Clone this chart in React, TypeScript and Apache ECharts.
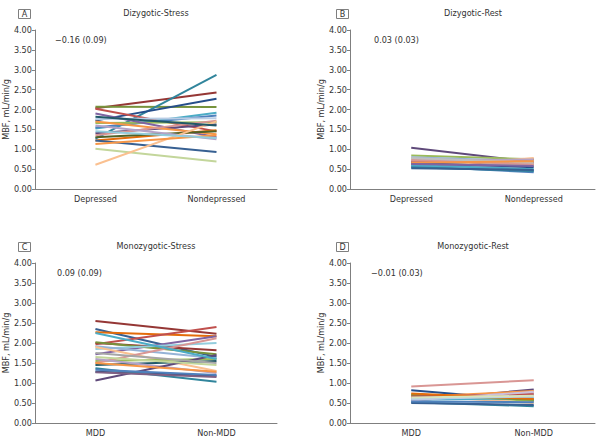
import React, { useEffect, useRef } from "react";
import * as echarts from "echarts";

const yTicks = [0, 0.5, 1, 1.5, 2, 2.5, 3, 3.5, 4];
const dzCategories = ["Depressed", "Nondepressed"];
const mzCategories = ["MDD", "Non-MDD"];
const panelLetters = ["A", "B", "C", "D"];
const panelTitles = ["Dizygotic-Stress", "Dizygotic-Rest", "Monozygotic-Stress", "Monozygotic-Rest"];
const panelNotes = ["\u22120.16 (0.09)", "0.03 (0.03)", "0.09 (0.09)", "\u22120.01 (0.03)"];
const yAxisName = "MBF, mL/min/g";

const dzStressDep = [2.03, 2.07, 1.27, 1.72, 2.02, 1.52, 1.55, 1.76, 1.66, 1.9, 1.4, 1.7, 1.22, 1.3, 1.35, 1.6, 1.22, 1.01, 0.61, 1.13, 1.45, 1.82];
const dzStressNon = [2.43, 2.06, 2.87, 2.27, 1.45, 1.92, 1.85, 1.78, 1.68, 1.3, 1.62, 1.38, 1.48, 1.45, 1.72, 1.25, 0.93, 0.69, 1.7, 1.35, 1.28, 1.6];

const dzRestDep = [1.04, 0.84, 0.8, 0.68, 0.7, 0.62, 0.55, 0.58, 0.55, 0.6, 0.76, 0.72, 0.65, 0.73, 0.78, 0.66, 0.52, 0.63];
const dzRestNon = [0.68, 0.75, 0.7, 0.67, 0.62, 0.75, 0.78, 0.42, 0.45, 0.5, 0.6, 0.74, 0.55, 0.62, 0.66, 0.7, 0.48, 0.58];

const mzStressMdd = [2.55, 2.35, 2.27, 1.97, 1.72, 2.0, 2.02, 1.85, 1.45, 1.92, 1.9, 1.55, 1.5, 1.6, 1.06, 1.28, 1.37, 1.33, 1.27, 1.5, 1.65, 1.75, 2.25];
const mzStressNon = [2.23, 1.65, 2.17, 2.4, 2.17, 1.82, 1.72, 2.0, 1.55, 1.62, 1.3, 1.6, 2.12, 1.25, 1.7, 1.18, 1.03, 1.2, 1.15, 1.28, 1.45, 1.5, 1.6];

const mzRestMdd = [0.91, 0.82, 0.55, 0.65, 0.72, 0.52, 0.6, 0.62, 0.68, 0.58, 0.7, 0.5, 0.66, 0.56, 0.74, 0.6, 0.54, 0.64];
const mzRestNon = [1.07, 0.56, 0.84, 0.8, 0.55, 0.42, 0.7, 0.75, 0.5, 0.62, 0.58, 0.45, 0.72, 0.78, 0.6, 0.66, 0.52, 0.68];

const paletteA = ["#953735", "#77933C", "#31859C", "#254E8A", "#C0504D", "#4BACC6", "#4F81BD", "#B9CDE5", "#9BBB59", "#8064A2", "#5F497A", "#F79646", "#E46C0A", "#4F6228", "#D99694", "#B3A2C7", "#376092", "#C3D69B", "#FAC090", "#F79646", "#93CDDD", "#215968"];
const paletteB = ["#5F497A", "#9BBB59", "#95B3D7", "#953735", "#C0504D", "#E46C0A", "#FAC090", "#4F81BD", "#31859C", "#4BACC6", "#C3D69B", "#B3A2C7", "#254E8A", "#D99694", "#BFBFBF", "#F79646", "#376092", "#8064A2"];
const paletteC = ["#953735", "#376092", "#E46C0A", "#C0504D", "#8064A2", "#953735", "#77933C", "#93CDDD", "#215968", "#95B3D7", "#FAC090", "#9BBB59", "#D99694", "#B3A2C7", "#5F497A", "#1F497D", "#31859C", "#4F81BD", "#7F6084", "#F79646", "#C3D69B", "#A6A6A6", "#4BACC6"];
const paletteD = ["#D99694", "#254E8A", "#5F497A", "#F79646", "#9BBB59", "#31859C", "#95B3D7", "#B3A2C7", "#FAC090", "#4BACC6", "#77933C", "#376092", "#C0504D", "#CCC1DA", "#E46C0A", "#B9CDE5", "#4F81BD", "#D7E4BD"];

const FONT = "'DejaVu Sans Condensed', 'Liberation Sans', sans-serif";
const TXT = "#333";

export default function App() {
  const ref = useRef<HTMLDivElement>(null);
  useEffect(() => {
    document.body.style.margin = "0";
    const chart = echarts.init(ref.current!, null, { renderer: "svg" });
    const grids = [
      { left: 33, top: 30, width: 244, height: 159 },
      { left: 350, top: 30, width: 245, height: 159 },
      { left: 33, top: 263, width: 244, height: 160 },
      { left: 350, top: 263, width: 245, height: 160 },
    ];
    const panels = [
      { cats: dzCategories, a: dzStressDep, b: dzStressNon, pal: paletteA },
      { cats: dzCategories, a: dzRestDep, b: dzRestNon, pal: paletteB },
      { cats: mzCategories, a: mzStressMdd, b: mzStressNon, pal: paletteC },
      { cats: mzCategories, a: mzRestMdd, b: mzRestNon, pal: paletteD },
    ];
    const axisLine = { lineStyle: { color: "#7f7f7f", width: 1 } };
    const xAxis = panels.map((p, i) => ({
      type: "category",
      gridIndex: i,
      data: p.cats,
      boundaryGap: true,
      axisLine,
      axisTick: { alignWithLabel: true, length: 3, lineStyle: { color: "#7f7f7f" } },
      axisLabel: { color: TXT, fontFamily: FONT, fontSize: 9, margin: 5 },
    }));
    const yAxis = panels.map((p, i) => ({
      type: "value",
      gridIndex: i,
      min: yTicks[0],
      max: yTicks[yTicks.length - 1],
      interval: yTicks[1] - yTicks[0],
      name: yAxisName,
      nameLocation: "middle",
      nameGap: 21,
      nameTextStyle: { color: TXT, fontFamily: FONT, fontSize: 9 },
      axisLine: { show: true, ...axisLine },
      axisTick: { show: true, length: 3, lineStyle: { color: "#7f7f7f" } },
      splitLine: { show: false },
      axisLabel: { color: TXT, fontFamily: FONT, fontSize: 9, margin: 3, formatter: (v: number) => v.toFixed(2) },
    }));
    const series: any[] = [];
    panels.forEach((p, i) => {
      p.a.forEach((v, k) => {
        series.push({
          type: "line",
          xAxisIndex: i,
          yAxisIndex: i,
          data: [v, p.b[k]],
          symbol: "none",
          lineStyle: { width: 2, color: p.pal[k % p.pal.length] },
          silent: true,
        });
      });
    });
    const boxPos = [
      { x: 18, y: 9 },
      { x: 336, y: 9 },
      { x: 18, y: 242 },
      { x: 336, y: 242 },
    ];
    const titlePos = [
      { x: 156, y: 13 },
      { x: 473, y: 13 },
      { x: 156, y: 246 },
      { x: 473, y: 246 },
    ];
    const notePos = [
      { x: 55, y: 40 },
      { x: 374, y: 40 },
      { x: 57, y: 273 },
      { x: 371, y: 273 },
    ];
    const graphic: any[] = [];
    panelLetters.forEach((L, i) => {
      graphic.push({
        type: "rect",
        shape: { x: boxPos[i].x + 0.5, y: boxPos[i].y + 0.5, width: 12, height: 9 },
        style: { fill: "#fff", stroke: "#7f7f7f", lineWidth: 1 },
      });
      graphic.push({
        type: "text",
        x: boxPos[i].x + 6.5,
        y: boxPos[i].y + 5,
        style: { text: L, fontFamily: FONT, fontSize: 9, fill: TXT, align: "center", verticalAlign: "middle" },
      });
      graphic.push({
        type: "text",
        x: titlePos[i].x,
        y: titlePos[i].y,
        style: { text: panelTitles[i], fontFamily: FONT, fontSize: 9, fill: TXT, align: "center", verticalAlign: "middle" },
      });
      graphic.push({
        type: "text",
        x: notePos[i].x,
        y: notePos[i].y,
        style: { text: panelNotes[i], fontFamily: FONT, fontSize: 9, fill: TXT, align: "left", verticalAlign: "middle" },
      });
    });
    chart.setOption({
      animation: false,
      backgroundColor: "#fff",
      grid: grids,
      xAxis,
      yAxis,
      series,
      graphic,
    } as any);
    return () => chart.dispose();
  }, []);
  return <div ref={ref} style={{ width: 601, height: 443 }} />;
}
